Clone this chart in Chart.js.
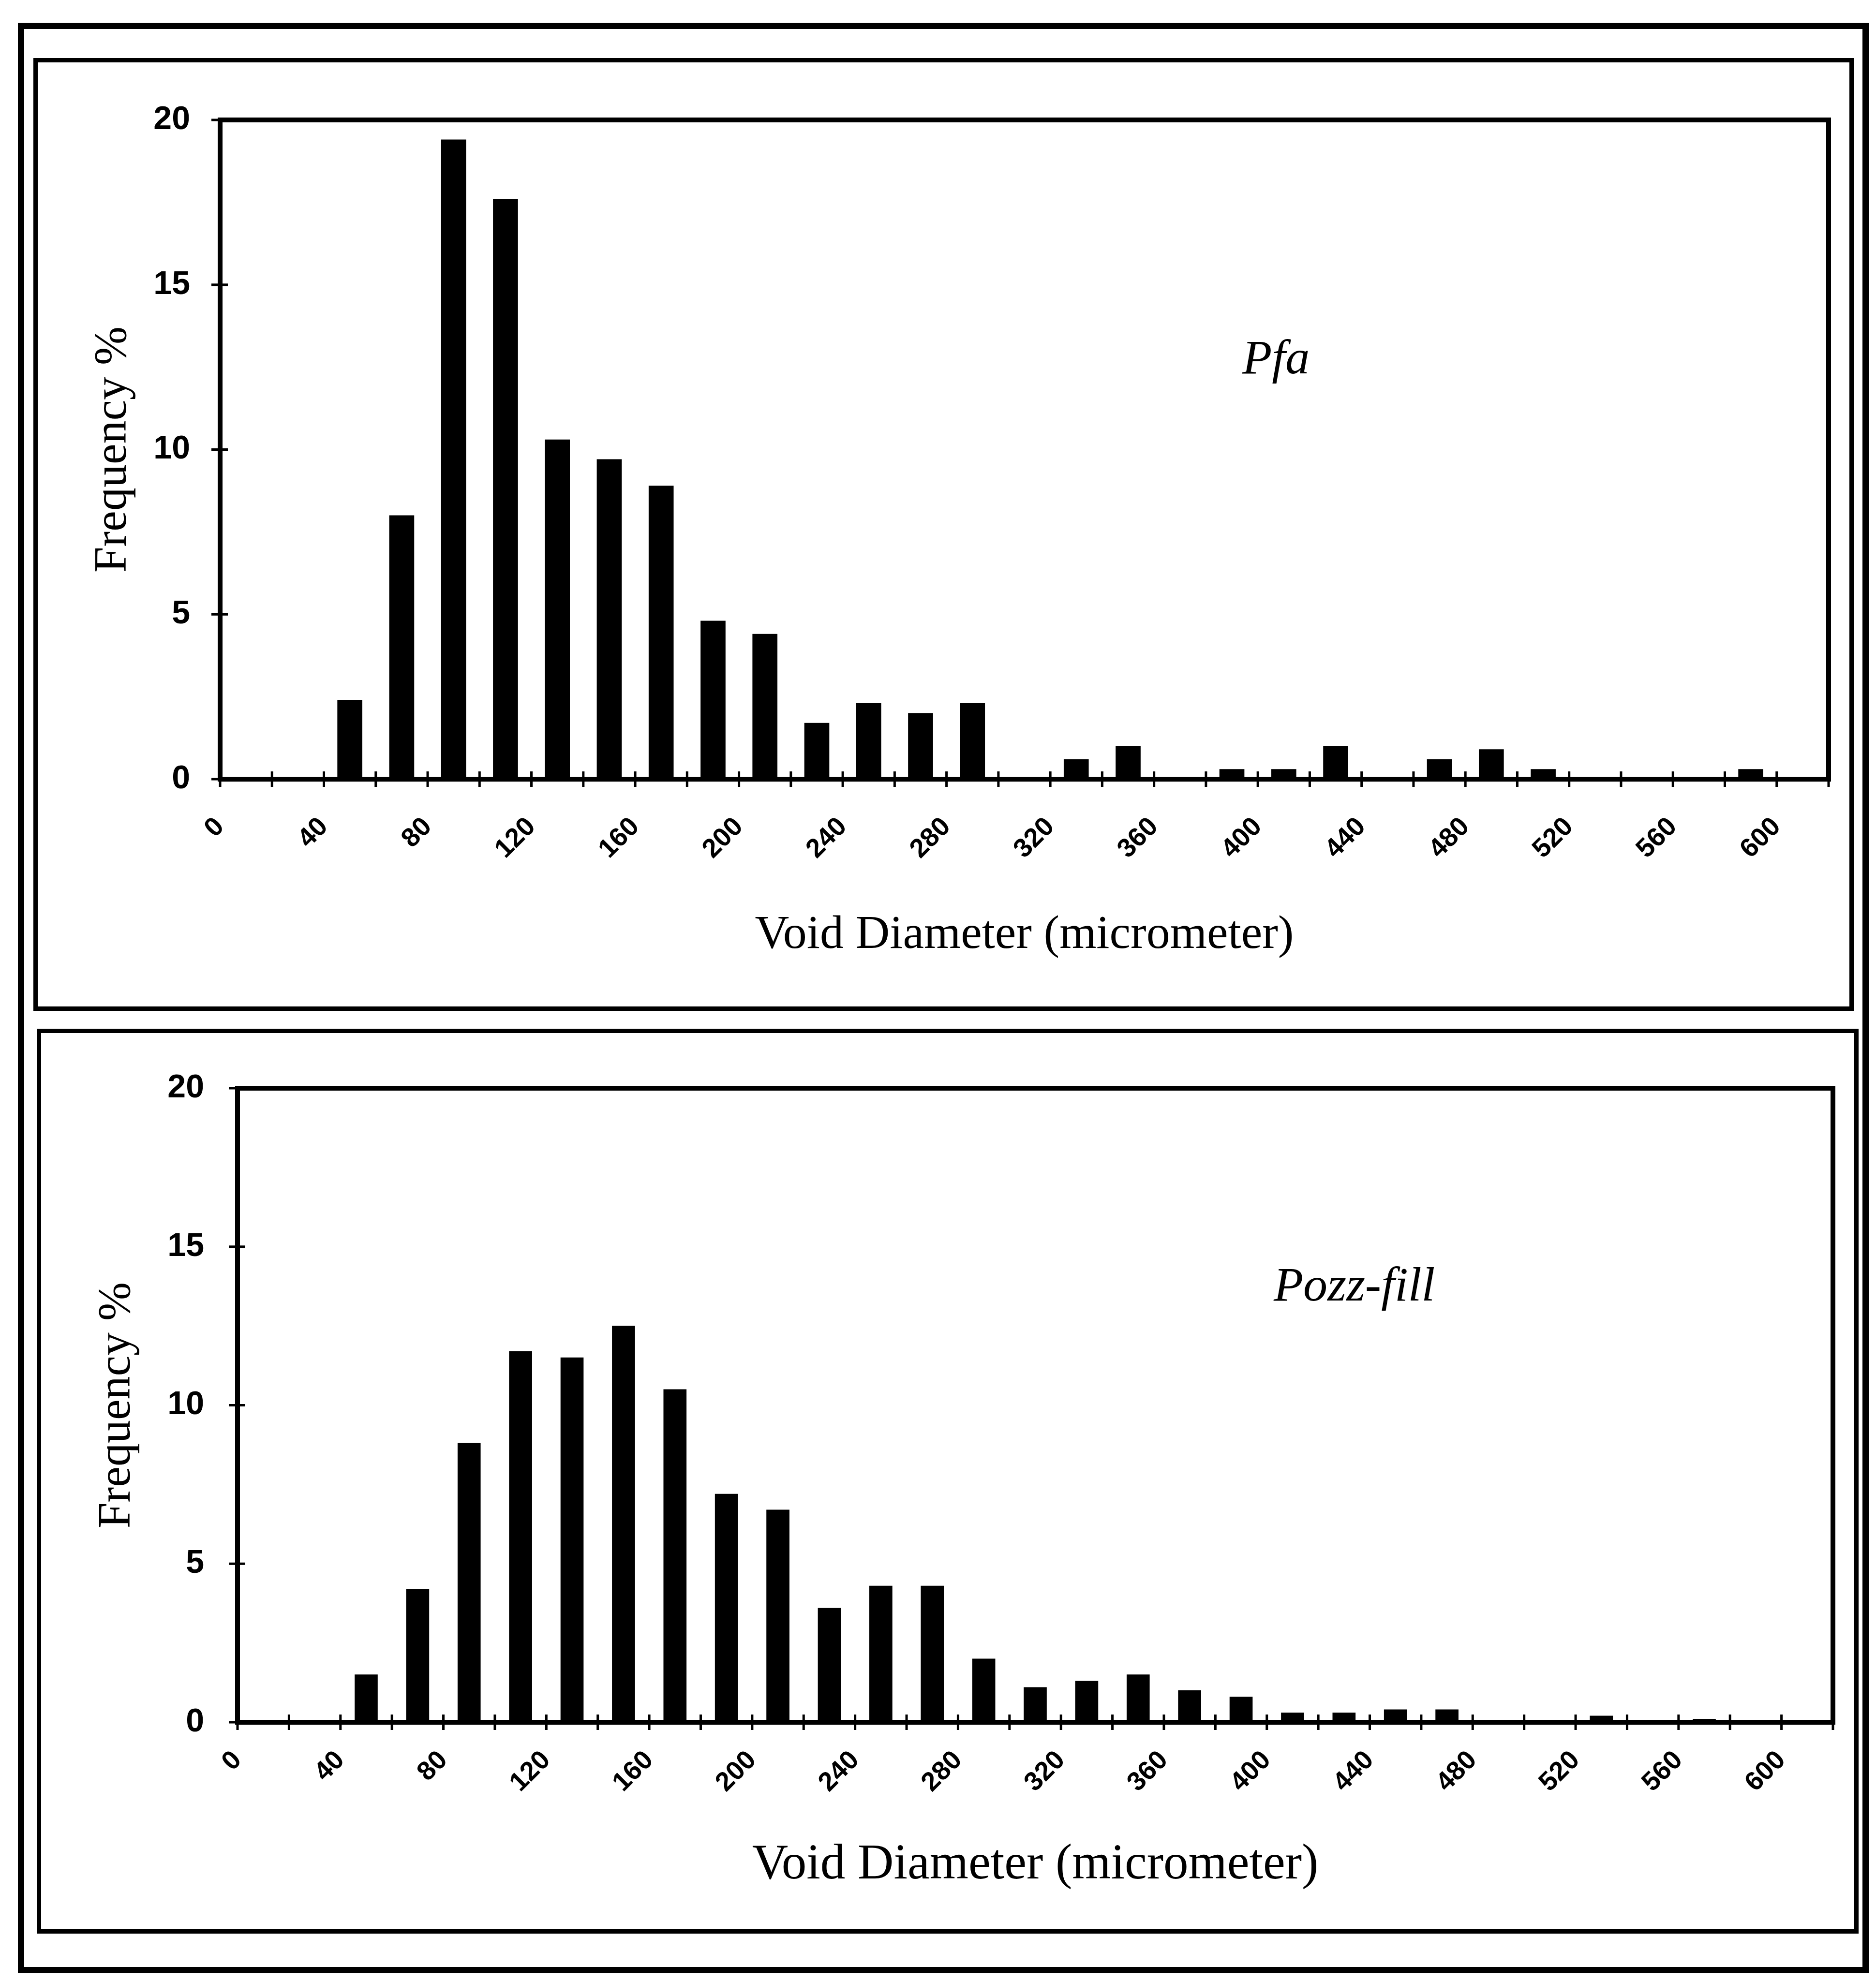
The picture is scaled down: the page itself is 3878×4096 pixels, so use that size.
<!DOCTYPE html>
<html>
<head>
<meta charset="utf-8">
<script src="https://cdn.jsdelivr.net/npm/chart.js@4.4.1/dist/chart.umd.min.js"></script>
<style>
  html, body { margin: 0; padding: 0; background: #fff; }
  body { position: relative; width: 3878px; height: 4096px; overflow: hidden; }
  .box { position: absolute; box-sizing: border-box; border: 9px solid #000; }
  canvas { position: absolute; left: 0; }
</style>
</head>
<body>
<div class="box" style="left:37px;top:47px;width:3826px;height:4033px;border-width:13px"></div>
<div class="box" style="left:69px;top:120px;width:3763px;height:1970px"></div>
<div class="box" style="left:76px;top:2127px;width:3766px;height:1871px"></div>
<canvas id="pfa" width="3878" height="2100" style="top:0"></canvas>
<canvas id="pozz" width="3878" height="1968" style="top:2110px"></canvas>
<script>
// bin centres (micrometer), 20 um bins
const binCenters = [10, 30, 50, 70, 90, 110, 130, 150, 170, 190, 210, 230, 250, 270, 290,
                    310, 330, 350, 370, 390, 410, 430, 450, 470, 490, 510, 530, 550, 570, 590];
const pfaFreq  = [0, 0, 2.4, 8.0, 19.4, 17.6, 10.3, 9.7, 8.9, 4.8, 4.4, 1.7, 2.3, 2.0, 2.3,
                  0, 0.6, 1.0, 0, 0.3, 0.3, 1.0, 0, 0.6, 0.9, 0.3, 0, 0, 0, 0.3];
const pozzFreq = [0, 0, 1.5, 4.2, 8.8, 11.7, 11.5, 12.5, 10.5, 7.2, 6.7, 3.6, 4.3, 4.3, 2.0,
                  1.1, 1.3, 1.5, 1.0, 0.8, 0.3, 0.3, 0.4, 0.4, 0, 0, 0.2, 0, 0.1, 0];
const yTickStep = 5;
const xTickStep = 20;
const xLabelEvery = 40;
const xMax = 620;
const yMax = 20;

const tickFont = "'Liberation Sans', sans-serif";
const serif = "'Liberation Serif', 'DejaVu Serif', serif";

// frame round the plot, crossing tick marks and the series name
const framePlugin = {
  id: 'frame',
  afterDraw(chart, args, opts) {
    const {ctx, chartArea: a, scales: {x, y}} = chart;
    ctx.save();
    ctx.strokeStyle = '#000';
    ctx.lineWidth = 10;
    ctx.strokeRect(a.left, a.top, a.right - a.left, a.bottom - a.top);
    ctx.lineWidth = 5;
    ctx.beginPath();
    x.ticks.forEach((t, i) => {
      const px = x.getPixelForTick(i);
      ctx.moveTo(px, a.bottom - 16);
      ctx.lineTo(px, a.bottom + 16);
    });
    y.ticks.forEach((t, i) => {
      const py = y.getPixelForTick(i);
      ctx.moveTo(a.left - 18, py);
      ctx.lineTo(a.left + 16, py);
    });
    ctx.stroke();
    ctx.fillStyle = '#000';
    ctx.font = 'italic 100px ' + serif;
    ctx.textAlign = 'center';
    ctx.textBaseline = 'middle';
    ctx.fillText(opts.text, x.getPixelForValue(opts.at[0]), y.getPixelForValue(opts.at[1]));
    ctx.restore();
  }
};

function makeChart(id, values, cfg) {
  return new Chart(document.getElementById(id), {
    type: 'bar',
    data: {
      datasets: [{
        data: binCenters.map((c, i) => ({x: c, y: values[i]})),
        backgroundColor: '#000',
        borderWidth: 0,
        barThickness: cfg.bar
      }]
    },
    options: {
      responsive: false,
      animation: false,
      layout: {padding: cfg.pad},
      plugins: {
        legend: {display: false},
        tooltip: {enabled: false},
        frame: {text: cfg.name, at: cfg.nameAt}
      },
      scales: {
        x: {
          type: 'linear',
          min: 0,
          max: xMax,
          offset: false,
          grid: {display: false, drawTicks: false},
          border: {display: false},
          ticks: {
            stepSize: xTickStep,
            autoSkip: false,
            minRotation: 45,
            maxRotation: 45,
            padding: cfg.xtp,
            color: '#000',
            font: {family: tickFont, weight: 'bold', size: 55, lineHeight: 0.2},
            callback: v => (v % xLabelEvery === 0 && v <= 600) ? String(v) : ''
          },
          title: {
            display: true,
            text: 'Void Diameter (micrometer)',
            color: '#000',
            font: {family: serif, size: cfg.xtSize, lineHeight: 1},
            padding: 0
          },
          afterFit: s => { s.height = cfg.xh; }
        },
        y: {
          min: 0,
          max: yMax,
          grid: {display: false, drawTicks: false},
          border: {display: false},
          ticks: {
            stepSize: yTickStep,
            padding: cfg.ytp,
            color: '#000',
            font: {family: tickFont, weight: 'bold', size: 68}
          },
          title: {
            display: true,
            text: 'Frequency %',
            color: '#000',
            font: {family: serif, size: 96, lineHeight: 1},
            padding: {top: cfg.ytitle, bottom: 0}
          },
          afterFit: s => { s.width = cfg.yw; }
        }
      }
    },
    plugins: [framePlugin]
  });
}

makeChart('pfa', pfaFreq, {
  pad: {left: 150, right: 98, top: 248, bottom: 117},
  yw: 305, xh: 372, ytp: 62, xtp: 86, ytitle: 37, bar: 51, xtSize: 98,
  name: 'Pfa', nameAt: [407, 12.7]
});

makeChart('pozz', pozzFreq, {
  pad: {left: 150, right: 89, top: 140, bottom: 170},
  yw: 341, xh: 347, ytp: 69, xtp: 66, ytitle: 45, bar: 47, xtSize: 103,
  name: 'Pozz-fill', nameAt: [434, 13.7]
});
</script>
</body>
</html>
